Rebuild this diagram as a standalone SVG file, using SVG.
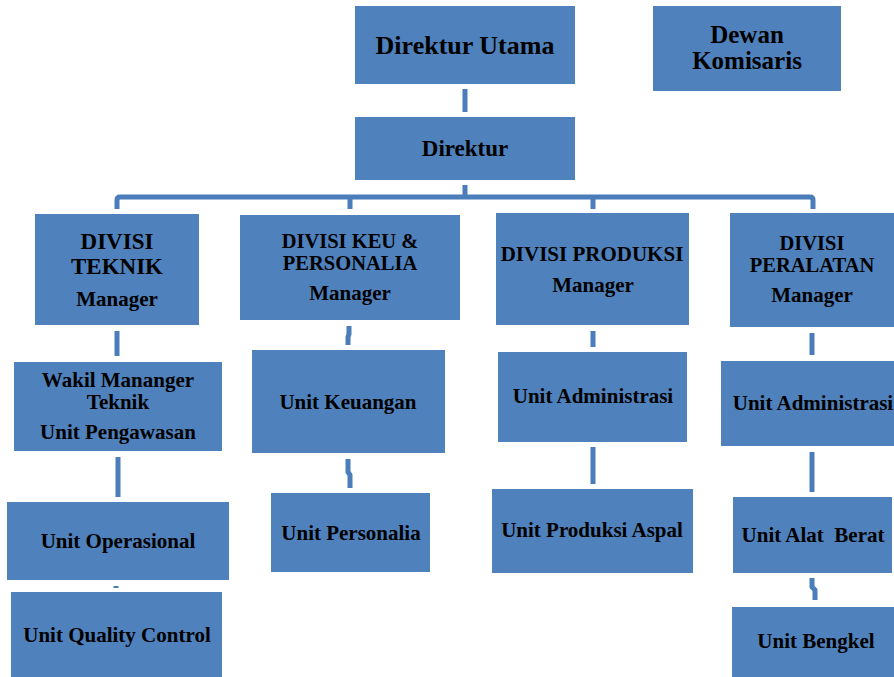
<svg xmlns="http://www.w3.org/2000/svg" width="894" height="677" viewBox="0 0 894 677">
<style>
.box{fill:#4F81BD}
.t{font-family:"Liberation Serif","Times New Roman",serif;font-weight:bold;fill:#000;text-anchor:middle;white-space:pre}
.c{fill:none;stroke:#4A7DBA;stroke-width:5}
</style>
<rect width="894" height="677" fill="#fff"/>
<g id="connectors">
<path class="c" d="M465,89 V112"/>
<path class="c" d="M465,185 V197"/>
<path class="c" d="M117,209 V200 Q117,197 120,197 H810 Q813,197 813,200 V209"/>
<path class="c" d="M350,197 V209"/>
<path class="c" d="M593,197 V209"/>
<path class="c" d="M117,331 V356"/>
<path class="c" d="M118,457 V497"/>
<path class="c" d="M116,586 V588"/>
<path class="c" d="M349,326 V334 L348,337 V345"/>
<path class="c" d="M348,459 V472 L350,475 V488"/>
<path class="c" d="M593,331 V347"/>
<path class="c" d="M593,447 V484"/>
<path class="c" d="M812,333 V355"/>
<path class="c" d="M812,452 V492"/>
<path class="c" d="M812,578 V587 L815,590 V600"/>
</g>
<g id="direktur-utama"><rect class="box" x="355" y="6" width="220" height="78"/><text class="t" x="465" y="54" font-size="26">Direktur Utama</text></g>
<g id="dewan-komisaris"><rect class="box" x="653" y="6" width="188" height="85"/><text class="t" x="747" y="43" font-size="25">Dewan</text><text class="t" x="747" y="69" font-size="25">Komisaris</text></g>
<g id="direktur"><rect class="box" x="355" y="117" width="220" height="63"/><text class="t" x="465" y="156" font-size="23">Direktur</text></g>
<g id="divisi-teknik"><rect class="box" x="35" y="214" width="164" height="111"/><text class="t" x="117" y="249" font-size="23">DIVISI</text><text class="t" x="117" y="274" font-size="23">TEKNIK</text><text class="t" x="117" y="306" font-size="21">Manager</text></g>
<g id="divisi-keu"><rect class="box" x="240" y="215" width="220" height="105"/><text class="t" x="350" y="248" font-size="20.5">DIVISI KEU &amp;</text><text class="t" x="350" y="270" font-size="20.5">PERSONALIA</text><text class="t" x="350" y="300" font-size="21">Manager</text></g>
<g id="divisi-produksi"><rect class="box" x="496" y="213" width="193" height="112"/><text class="t" x="592" y="261" font-size="21">DIVISI PRODUKSI</text><text class="t" x="593" y="292" font-size="21">Manager</text></g>
<g id="divisi-peralatan"><rect class="box" x="730" y="213" width="170" height="114"/><text class="t" x="812" y="250" font-size="20.5">DIVISI</text><text class="t" x="812" y="272" font-size="20.5">PERALATAN</text><text class="t" x="812" y="302" font-size="21">Manager</text></g>
<g id="wakil-manager"><rect class="box" x="14" y="362" width="208" height="89"/><text class="t" x="118" y="387" font-size="21">Wakil Mananger</text><text class="t" x="118" y="409" font-size="21">Teknik</text><text class="t" x="118" y="439" font-size="21">Unit Pengawasan</text></g>
<g id="unit-operasional"><rect class="box" x="7" y="502" width="222" height="78"/><text class="t" x="118" y="548" font-size="21">Unit Operasional</text></g>
<g id="unit-quality-control"><rect class="box" x="11" y="592" width="211" height="90"/><text class="t" x="117" y="642" font-size="21">Unit Quality Control</text></g>
<g id="unit-keuangan"><rect class="box" x="252" y="350" width="193" height="103"/><text class="t" x="348" y="409" font-size="21">Unit Keuangan</text></g>
<g id="unit-personalia"><rect class="box" x="271" y="493" width="159" height="79"/><text class="t" x="351" y="540" font-size="21">Unit Personalia</text></g>
<g id="unit-administrasi-produksi"><rect class="box" x="498" y="352" width="189" height="90"/><text class="t" x="593" y="403" font-size="21">Unit Administrasi</text></g>
<g id="unit-produksi-aspal"><rect class="box" x="492" y="489" width="201" height="84"/><text class="t" x="592" y="537" font-size="21">Unit Produksi Aspal</text></g>
<g id="unit-administrasi-peralatan"><rect class="box" x="721" y="361" width="182" height="85"/><text class="t" x="813" y="410" font-size="21">Unit Administrasi</text></g>
<g id="unit-alat-berat"><rect class="box" x="733" y="497" width="159" height="76"/><text class="t" x="813" y="542" font-size="21">Unit Alat  Berat</text></g>
<g id="unit-bengkel"><rect class="box" x="732" y="607" width="170" height="75"/><text class="t" x="816" y="648" font-size="21">Unit Bengkel</text></g>
</svg>
